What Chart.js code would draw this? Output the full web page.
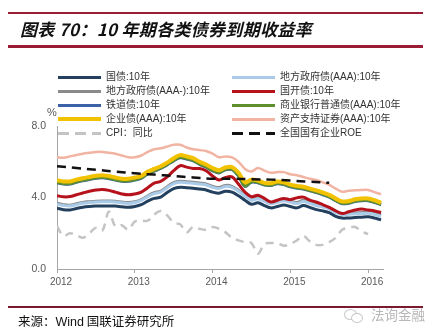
<!DOCTYPE html>
<html><head><meta charset="utf-8">
<script src="https://cdn.jsdelivr.net/npm/chart.js@4.4.1/dist/chart.umd.min.js"></script>
<style>
html,body{margin:0;padding:0;background:#fff}
#wrap{position:relative;width:441px;height:335px;overflow:hidden;background:#fff}
#c{position:absolute;left:0;top:0}
.abs{position:absolute;white-space:nowrap}
.rule{position:absolute;background:#9b1c35}
.lg{position:absolute;font-family:"Liberation Sans Narrow","Liberation Sans","Noto Sans CJK SC",sans-serif;font-size:10px;color:#333;line-height:12px;white-space:nowrap}
.sw{position:absolute;height:3px}
</style></head>
<body><div id="wrap">
<canvas id="c" width="441" height="335"></canvas>
<div class="rule" style="left:8px;top:12px;width:415px;height:1.5px"></div>
<div class="abs" style="left:20px;top:17px;font-family:'Noto Sans CJK SC';font-weight:bold;font-style:italic;font-size:17px;letter-spacing:0.3px;color:#111;line-height:24px">图表 70：10 年期各类债券到期收益率</div>
<div class="rule" style="left:8px;top:45px;width:415px;height:2.5px"></div>
<div id="legend"></div>
<div class="abs" style="left:47px;top:106px;font-family:'Liberation Sans';font-size:11px;color:#595959">%</div>
<div class="rule" style="left:8px;top:306px;width:415px;height:1.5px;background:#7a1a30"></div>
<div class="abs" style="left:18px;top:313px;font-family:'Noto Sans CJK SC';font-size:12.5px;color:#111;line-height:16px">来源：<span style="font-family:'Liberation Sans'">Wind</span> 国联证券研究所</div>
<div class="abs" style="left:344px;top:309px;width:11px;height:9px;border:1.3px solid #c8c8c8;border-radius:50%;background:#fff"></div>
<div class="abs" style="left:351px;top:313px;width:10px;height:8px;border:1.3px solid #c8c8c8;border-radius:50%;background:#fff"></div>
<div class="abs" style="left:371px;top:305px;font-family:'Noto Sans CJK SC';font-size:13.5px;color:#b8b8b8;line-height:18px">法询金融</div>
</div>
<script>
// month index 0..50 ; year tick positions
const yearTicks = [0, 12, 24, 36, 48];
const yearLabels = ['2012', '2013', '2014', '2015', '2016'];
const months = Array.from({length: 51}, (_, i) => i);

const govBond = [3.40,3.32,3.30,3.38,3.46,3.50,3.52,3.53,3.53,3.52,3.48,3.45,3.50,3.60,3.80,3.95,4.02,4.28,4.50,4.57,4.55,4.52,4.47,4.42,4.30,4.24,4.35,4.30,4.10,3.85,3.62,3.70,3.55,3.42,3.50,3.58,3.50,3.42,3.55,3.45,3.32,3.25,3.15,2.95,2.85,2.86,2.88,2.90,2.92,2.85,2.75];
const localAAA = [3.63,3.55,3.52,3.60,3.68,3.72,3.75,3.76,3.76,3.75,3.70,3.67,3.72,3.84,4.05,4.22,4.30,4.55,4.78,4.85,4.83,4.80,4.75,4.70,4.57,4.50,4.62,4.57,4.35,4.08,3.85,3.93,3.78,3.65,3.73,3.82,3.74,3.66,3.78,3.68,3.55,3.47,3.36,3.15,3.05,3.06,3.08,3.10,3.12,3.05,2.95];
const localAAAminus = [3.69,3.61,3.58,3.66,3.74,3.78,3.81,3.82,3.82,3.81,3.76,3.73,3.78,3.90,4.11,4.28,4.37,4.62,4.85,4.92,4.90,4.87,4.82,4.77,4.64,4.57,4.69,4.64,4.42,4.15,3.93,4.01,3.86,3.73,3.81,3.90,3.82,3.74,3.86,3.76,3.63,3.55,3.44,3.23,3.12,3.13,3.15,3.17,3.19,3.12,3.02];
const cdbBond = [4.10,4.04,4.05,4.15,4.25,4.35,4.42,4.45,4.40,4.30,4.20,4.15,4.20,4.30,4.55,4.80,4.90,5.15,5.50,5.78,5.70,5.62,5.62,5.50,5.20,4.98,5.12,5.15,4.75,4.30,4.05,4.12,3.95,3.75,3.85,3.95,3.88,3.98,4.02,3.85,3.75,3.60,3.45,3.25,3.10,3.20,3.30,3.35,3.30,3.25,3.15];
const railBond = [4.81,4.74,4.74,4.84,4.92,4.99,5.06,5.09,5.04,4.96,4.89,4.89,4.96,5.06,5.31,5.46,5.61,5.81,6.04,6.21,6.14,6.04,5.84,5.68,5.48,5.36,5.54,5.54,5.18,4.61,4.84,4.81,4.68,4.66,4.76,4.71,4.58,4.51,4.46,4.36,4.26,4.14,4.01,3.81,3.64,3.66,3.76,3.81,3.81,3.71,3.58];
const bankBond = [4.85,4.78,4.78,4.88,4.96,5.03,5.10,5.13,5.08,5.00,4.93,4.93,5.00,5.10,5.35,5.50,5.65,5.85,6.08,6.25,6.18,6.08,5.88,5.72,5.52,5.40,5.58,5.58,5.22,4.65,4.88,4.85,4.72,4.70,4.80,4.75,4.62,4.55,4.50,4.40,4.30,4.18,4.05,3.85,3.68,3.70,3.80,3.85,3.85,3.75,3.62];
const corpBond = [4.97,4.90,4.90,5.00,5.08,5.15,5.22,5.25,5.20,5.12,5.05,5.05,5.12,5.20,5.45,5.60,5.75,5.95,6.20,6.37,6.30,6.20,6.00,5.85,5.65,5.53,5.68,5.70,5.40,4.85,5.00,4.95,4.82,4.80,4.90,4.85,4.72,4.65,4.60,4.50,4.40,4.28,4.15,3.95,3.78,3.80,3.90,3.95,3.95,3.85,3.70];
const absBond = [6.25,6.22,6.30,6.38,6.45,6.50,6.55,6.55,6.50,6.45,6.35,6.25,6.25,6.35,6.55,6.70,6.75,6.85,6.95,6.95,6.80,6.70,6.65,6.60,6.45,6.25,6.30,6.25,6.00,5.60,5.45,5.65,5.50,5.38,5.42,5.42,5.30,5.25,5.15,5.05,4.98,4.85,4.70,4.50,4.32,4.38,4.40,4.42,4.42,4.30,4.18];
const cpiYoY = [2.40,1.85,2.00,1.90,1.75,2.00,2.30,2.15,3.20,2.40,2.45,2.20,2.65,2.70,2.70,3.05,3.25,3.00,2.60,2.50,2.05,2.35,2.25,2.20,2.35,2.25,2.05,1.75,1.60,1.50,1.45,0.85,1.40,1.45,1.45,1.30,1.40,1.60,1.85,1.55,1.35,1.35,1.50,1.75,2.20,2.30,2.35,2.10,1.95,null,null];
const soeROE = [5.75,null,null,5.65,null,null,5.55,null,null,5.45,null,null,5.35,null,null,5.28,null,null,5.20,null,null,5.12,null,null,5.05,null,null,5.05,null,null,5.02,null,null,5.00,null,null,4.95,null,null,4.88,null,null,4.82,null,null,null,null,null,null,null,null];

const names = ['国债:10年','地方政府债(AAA):10年','地方政府债(AAA-):10年','国开债:10年','铁道债:10年','商业银行普通债(AAA):10年','企业债(AAA):10年','资产支持证券(AAA):10年','CPI：同比','全国国有企业ROE'];
const colors = ['#23405f','#a9cbe8','#8a8a8a','#b5121b','#3b62a6','#5f8f2d','#f2c200','#f2b4a2','#c4c4c4','#111111'];
const widths = [3,3,2.5,3,2.5,3,4,2.5,2.5,2.5];
const dashes = [null,null,null,null,null,null,null,null,[8,6],[9,6]];
const drawOrder = [10,8,9,7,6,5,4,3,2,1];
const series = [govBond,localAAA,localAAAminus,cdbBond,railBond,bankBond,corpBond,absBond,cpiYoY,soeROE];

const datasets = series.map((arr, i) => ({
  label: names[i],
  data: arr.map((v, k) => ({x: months[k], y: v})),
  borderColor: colors[i],
  backgroundColor: colors[i],
  borderWidth: widths[i],
  borderDash: dashes[i] || [],
  pointRadius: 0,
  tension: 0.35,
  spanGaps: i === 9,
  fill: false,
  order: drawOrder[i],
  borderCapStyle: 'butt'
}));

// HTML legend (two columns, row-wise order)
const lg = document.getElementById('legend');
const rowsY = [77, 91, 105, 119, 133];
names.forEach((n, i) => {
  const col = i % 2, row = Math.floor(i / 2);
  const sx = col ? 232 : 58, tx = col ? 280 : 106, cy = rowsY[row];
  const sw = document.createElement('div');
  sw.className = 'sw';
  const h = i === 6 ? 4 : 3;
  sw.style.left = sx + 'px'; sw.style.width = '43px';
  sw.style.top = (cy - h / 2) + 'px'; sw.style.height = h + 'px';
  if (dashes[i]) {
    sw.style.background = 'repeating-linear-gradient(to right,' + colors[i] + ' 0 11px, transparent 11px 17px)';
  } else {
    sw.style.background = colors[i];
  }
  lg.appendChild(sw);
  const t = document.createElement('div');
  t.className = 'lg';
  t.style.left = tx + 'px'; t.style.top = (cy - 6.5) + 'px';
  t.textContent = n;
  lg.appendChild(t);
});

new Chart(document.getElementById('c'), {
  type: 'line',
  data: { datasets },
  options: {
    responsive: false,
    devicePixelRatio: 1,
    animation: false,
    events: [],
    layout: { padding: { left: 0, top: 126, right: 58, bottom: 36 } },
    plugins: { legend: { display: false }, tooltip: { enabled: false }, title: { display: false } },
    scales: {
      x: {
        type: 'linear', min: 0, max: 50.3,
        afterBuildTicks: s => { s.ticks = yearTicks.map(v => ({ value: v })); },
        afterFit: s => { s.height = 30; },
        ticks: {
          callback: v => yearLabels[yearTicks.indexOf(v)],
          color: '#595959', font: { size: 10, family: 'Liberation Sans' },
          padding: 3, labelOffset: 4, maxRotation: 0, autoSkip: false
        },
        grid: { display: true, drawOnChartArea: false, drawTicks: true, tickLength: 4, color: '#a6a6a6' },
        border: { display: true, color: '#a6a6a6', width: 1 }
      },
      y: {
        min: 0, max: 8,
        afterFit: s => { s.width = 57; },
        ticks: {
          stepSize: 4, callback: v => Number(v).toFixed(1),
          color: '#595959', font: { size: 10.5, family: 'Liberation Sans' }, padding: 11
        },
        grid: { display: false, drawTicks: false },
        border: { display: true, color: '#a6a6a6', width: 1 }
      }
    }
  }
});
</script>
</body></html>
